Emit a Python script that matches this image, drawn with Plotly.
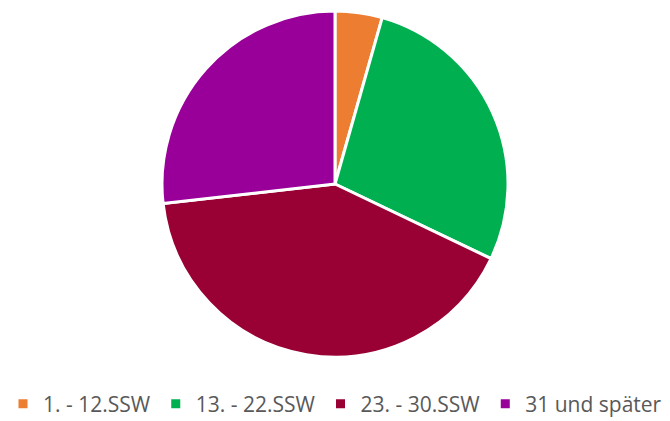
import plotly.graph_objects as go

labels = ["1. - 12.SSW", "13. - 22.SSW", "23. - 30.SSW", "31 und später"]
values = [4.4, 27.7, 41.1, 26.8]
colors = ["#ED7D31", "#00B050", "#990033", "#990099"]

fig = go.Figure(go.Pie(
    labels=labels,
    values=values,
    sort=False,
    direction="clockwise",
    rotation=0,
    textinfo="none",
    hoverinfo="label+percent",
    marker=dict(colors=colors, line=dict(color="white", width=3)),
))

fig.update_layout(
    width=670, height=421,
    margin=dict(l=0, r=0, t=11, b=64),
    paper_bgcolor="white",
    plot_bgcolor="white",
    showlegend=True,
    legend=dict(
        orientation="h",
        xref="container", yref="container",
        x=0.5, xanchor="center",
        y=(421 - 404) / 421, yanchor="middle",
        font=dict(family="Open Sans, Liberation Sans, sans-serif", size=21, color="#595959"),
        itemwidth=30,
        traceorder="normal",
    ),
)

fig.write_html("out.html")
